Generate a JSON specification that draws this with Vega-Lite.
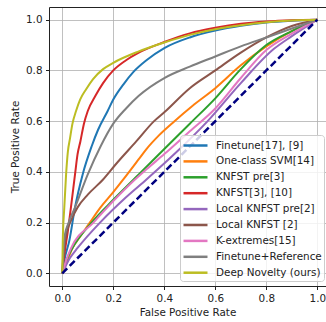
{
  "$schema": "https://vega.github.io/schema/vega-lite/v6.json",
  "width": 277,
  "height": 279,
  "autosize": "none",
  "padding": {"left": 49, "top": 7, "right": 0, "bottom": 36},
  "background": "white",
  "config": {
    "font": "DejaVu Sans",
    "view": {"stroke": null},
    "axis": {
      "labelFont": "DejaVu Sans",
      "titleFont": "DejaVu Sans",
      "labelFontSize": 10.4,
      "titleFontSize": 10.4,
      "titleFontWeight": "normal",
      "labelColor": "#222",
      "titleColor": "#222",
      "domainColor": "#222",
      "domainWidth": 1,
      "tickColor": "#222",
      "tickWidth": 1,
      "tickSize": 3.5,
      "labelPadding": 3.5,
      "gridColor": "#b0b0b0",
      "gridWidth": 0.8
    },
    "legend": {
      "labelFont": "DejaVu Sans",
      "labelFontSize": 10.4,
      "labelColor": "#222"
    }
  },
  "datasets": {
    "curves": [
      {"method": "Finetune[17], [9]", "fpr": 0, "tpr": 0},
      {"method": "Finetune[17], [9]", "fpr": 0.01, "tpr": 0.06},
      {"method": "Finetune[17], [9]", "fpr": 0.028, "tpr": 0.13},
      {"method": "Finetune[17], [9]", "fpr": 0.05, "tpr": 0.26},
      {"method": "Finetune[17], [9]", "fpr": 0.08, "tpr": 0.39},
      {"method": "Finetune[17], [9]", "fpr": 0.115, "tpr": 0.5},
      {"method": "Finetune[17], [9]", "fpr": 0.14, "tpr": 0.565},
      {"method": "Finetune[17], [9]", "fpr": 0.178, "tpr": 0.64},
      {"method": "Finetune[17], [9]", "fpr": 0.2, "tpr": 0.685},
      {"method": "Finetune[17], [9]", "fpr": 0.24, "tpr": 0.745},
      {"method": "Finetune[17], [9]", "fpr": 0.28, "tpr": 0.795},
      {"method": "Finetune[17], [9]", "fpr": 0.33, "tpr": 0.84},
      {"method": "Finetune[17], [9]", "fpr": 0.4, "tpr": 0.888},
      {"method": "Finetune[17], [9]", "fpr": 0.5, "tpr": 0.93},
      {"method": "Finetune[17], [9]", "fpr": 0.6, "tpr": 0.957},
      {"method": "Finetune[17], [9]", "fpr": 0.7, "tpr": 0.976},
      {"method": "Finetune[17], [9]", "fpr": 0.8, "tpr": 0.989},
      {"method": "Finetune[17], [9]", "fpr": 0.9, "tpr": 0.996},
      {"method": "Finetune[17], [9]", "fpr": 1, "tpr": 1},

      {"method": "One-class SVM[14]", "fpr": 0, "tpr": 0},
      {"method": "One-class SVM[14]", "fpr": 0.02, "tpr": 0.05},
      {"method": "One-class SVM[14]", "fpr": 0.04, "tpr": 0.1},
      {"method": "One-class SVM[14]", "fpr": 0.067, "tpr": 0.14},
      {"method": "One-class SVM[14]", "fpr": 0.108, "tpr": 0.2},
      {"method": "One-class SVM[14]", "fpr": 0.15, "tpr": 0.26},
      {"method": "One-class SVM[14]", "fpr": 0.2, "tpr": 0.32},
      {"method": "One-class SVM[14]", "fpr": 0.237, "tpr": 0.367},
      {"method": "One-class SVM[14]", "fpr": 0.3, "tpr": 0.45},
      {"method": "One-class SVM[14]", "fpr": 0.33, "tpr": 0.49},
      {"method": "One-class SVM[14]", "fpr": 0.38, "tpr": 0.545},
      {"method": "One-class SVM[14]", "fpr": 0.44, "tpr": 0.6},
      {"method": "One-class SVM[14]", "fpr": 0.51, "tpr": 0.66},
      {"method": "One-class SVM[14]", "fpr": 0.6, "tpr": 0.73},
      {"method": "One-class SVM[14]", "fpr": 0.7, "tpr": 0.82},
      {"method": "One-class SVM[14]", "fpr": 0.8, "tpr": 0.895},
      {"method": "One-class SVM[14]", "fpr": 0.9, "tpr": 0.955},
      {"method": "One-class SVM[14]", "fpr": 1, "tpr": 1},

      {"method": "KNFST pre[3]", "fpr": 0, "tpr": 0},
      {"method": "KNFST pre[3]", "fpr": 0.02, "tpr": 0.06},
      {"method": "KNFST pre[3]", "fpr": 0.04, "tpr": 0.1},
      {"method": "KNFST pre[3]", "fpr": 0.115, "tpr": 0.2},
      {"method": "KNFST pre[3]", "fpr": 0.2, "tpr": 0.29},
      {"method": "KNFST pre[3]", "fpr": 0.277, "tpr": 0.367},
      {"method": "KNFST pre[3]", "fpr": 0.3, "tpr": 0.39},
      {"method": "KNFST pre[3]", "fpr": 0.4, "tpr": 0.49},
      {"method": "KNFST pre[3]", "fpr": 0.5, "tpr": 0.59},
      {"method": "KNFST pre[3]", "fpr": 0.6, "tpr": 0.69},
      {"method": "KNFST pre[3]", "fpr": 0.7, "tpr": 0.805},
      {"method": "KNFST pre[3]", "fpr": 0.8, "tpr": 0.9},
      {"method": "KNFST pre[3]", "fpr": 0.9, "tpr": 0.955},
      {"method": "KNFST pre[3]", "fpr": 1, "tpr": 1},

      {"method": "KNFST[3], [10]", "fpr": 0, "tpr": 0},
      {"method": "KNFST[3], [10]", "fpr": 0.005, "tpr": 0.05},
      {"method": "KNFST[3], [10]", "fpr": 0.012, "tpr": 0.1},
      {"method": "KNFST[3], [10]", "fpr": 0.021, "tpr": 0.16},
      {"method": "KNFST[3], [10]", "fpr": 0.034, "tpr": 0.26},
      {"method": "KNFST[3], [10]", "fpr": 0.05, "tpr": 0.39},
      {"method": "KNFST[3], [10]", "fpr": 0.06, "tpr": 0.47},
      {"method": "KNFST[3], [10]", "fpr": 0.071, "tpr": 0.52},
      {"method": "KNFST[3], [10]", "fpr": 0.085, "tpr": 0.59},
      {"method": "KNFST[3], [10]", "fpr": 0.1, "tpr": 0.64},
      {"method": "KNFST[3], [10]", "fpr": 0.13, "tpr": 0.7},
      {"method": "KNFST[3], [10]", "fpr": 0.16, "tpr": 0.75},
      {"method": "KNFST[3], [10]", "fpr": 0.2, "tpr": 0.8},
      {"method": "KNFST[3], [10]", "fpr": 0.25, "tpr": 0.84},
      {"method": "KNFST[3], [10]", "fpr": 0.3, "tpr": 0.87},
      {"method": "KNFST[3], [10]", "fpr": 0.4, "tpr": 0.912},
      {"method": "KNFST[3], [10]", "fpr": 0.5, "tpr": 0.946},
      {"method": "KNFST[3], [10]", "fpr": 0.6, "tpr": 0.968},
      {"method": "KNFST[3], [10]", "fpr": 0.7, "tpr": 0.984},
      {"method": "KNFST[3], [10]", "fpr": 0.8, "tpr": 0.993},
      {"method": "KNFST[3], [10]", "fpr": 0.9, "tpr": 0.998},
      {"method": "KNFST[3], [10]", "fpr": 1, "tpr": 1},

      {"method": "Local KNFST pre[2]", "fpr": 0, "tpr": 0},
      {"method": "Local KNFST pre[2]", "fpr": 0.03, "tpr": 0.06},
      {"method": "Local KNFST pre[2]", "fpr": 0.06, "tpr": 0.1},
      {"method": "Local KNFST pre[2]", "fpr": 0.148, "tpr": 0.2},
      {"method": "Local KNFST pre[2]", "fpr": 0.25, "tpr": 0.3},
      {"method": "Local KNFST pre[2]", "fpr": 0.33, "tpr": 0.37},
      {"method": "Local KNFST pre[2]", "fpr": 0.45, "tpr": 0.48},
      {"method": "Local KNFST pre[2]", "fpr": 0.57, "tpr": 0.6},
      {"method": "Local KNFST pre[2]", "fpr": 0.7, "tpr": 0.75},
      {"method": "Local KNFST pre[2]", "fpr": 0.83, "tpr": 0.885},
      {"method": "Local KNFST pre[2]", "fpr": 0.9, "tpr": 0.935},
      {"method": "Local KNFST pre[2]", "fpr": 1, "tpr": 1},

      {"method": "Local KNFST [2]", "fpr": 0, "tpr": 0},
      {"method": "Local KNFST [2]", "fpr": 0.004, "tpr": 0.06},
      {"method": "Local KNFST [2]", "fpr": 0.01, "tpr": 0.12},
      {"method": "Local KNFST [2]", "fpr": 0.02, "tpr": 0.17},
      {"method": "Local KNFST [2]", "fpr": 0.035, "tpr": 0.21},
      {"method": "Local KNFST [2]", "fpr": 0.06, "tpr": 0.26},
      {"method": "Local KNFST [2]", "fpr": 0.1, "tpr": 0.31},
      {"method": "Local KNFST [2]", "fpr": 0.16, "tpr": 0.37},
      {"method": "Local KNFST [2]", "fpr": 0.21, "tpr": 0.43},
      {"method": "Local KNFST [2]", "fpr": 0.29, "tpr": 0.52},
      {"method": "Local KNFST [2]", "fpr": 0.36, "tpr": 0.6},
      {"method": "Local KNFST [2]", "fpr": 0.4, "tpr": 0.635},
      {"method": "Local KNFST [2]", "fpr": 0.5, "tpr": 0.73},
      {"method": "Local KNFST [2]", "fpr": 0.6, "tpr": 0.8},
      {"method": "Local KNFST [2]", "fpr": 0.7, "tpr": 0.87},
      {"method": "Local KNFST [2]", "fpr": 0.8, "tpr": 0.93},
      {"method": "Local KNFST [2]", "fpr": 0.85, "tpr": 0.955},
      {"method": "Local KNFST [2]", "fpr": 0.9, "tpr": 0.975},
      {"method": "Local KNFST [2]", "fpr": 1, "tpr": 1},

      {"method": "K-extremes[15]", "fpr": 0, "tpr": 0},
      {"method": "K-extremes[15]", "fpr": 0.015, "tpr": 0.05},
      {"method": "K-extremes[15]", "fpr": 0.035, "tpr": 0.1},
      {"method": "K-extremes[15]", "fpr": 0.122, "tpr": 0.2},
      {"method": "K-extremes[15]", "fpr": 0.2, "tpr": 0.285},
      {"method": "K-extremes[15]", "fpr": 0.282, "tpr": 0.367},
      {"method": "K-extremes[15]", "fpr": 0.33, "tpr": 0.41},
      {"method": "K-extremes[15]", "fpr": 0.4, "tpr": 0.47},
      {"method": "K-extremes[15]", "fpr": 0.5, "tpr": 0.56},
      {"method": "K-extremes[15]", "fpr": 0.6, "tpr": 0.65},
      {"method": "K-extremes[15]", "fpr": 0.7, "tpr": 0.77},
      {"method": "K-extremes[15]", "fpr": 0.8, "tpr": 0.88},
      {"method": "K-extremes[15]", "fpr": 0.9, "tpr": 0.945},
      {"method": "K-extremes[15]", "fpr": 1, "tpr": 1},

      {"method": "Finetune+Reference", "fpr": 0, "tpr": 0},
      {"method": "Finetune+Reference", "fpr": 0.004, "tpr": 0.08},
      {"method": "Finetune+Reference", "fpr": 0.01, "tpr": 0.15},
      {"method": "Finetune+Reference", "fpr": 0.025, "tpr": 0.2},
      {"method": "Finetune+Reference", "fpr": 0.05, "tpr": 0.26},
      {"method": "Finetune+Reference", "fpr": 0.1, "tpr": 0.39},
      {"method": "Finetune+Reference", "fpr": 0.15, "tpr": 0.5},
      {"method": "Finetune+Reference", "fpr": 0.2, "tpr": 0.59},
      {"method": "Finetune+Reference", "fpr": 0.25, "tpr": 0.65},
      {"method": "Finetune+Reference", "fpr": 0.3, "tpr": 0.7},
      {"method": "Finetune+Reference", "fpr": 0.4, "tpr": 0.77},
      {"method": "Finetune+Reference", "fpr": 0.5, "tpr": 0.815},
      {"method": "Finetune+Reference", "fpr": 0.6, "tpr": 0.855},
      {"method": "Finetune+Reference", "fpr": 0.7, "tpr": 0.895},
      {"method": "Finetune+Reference", "fpr": 0.8, "tpr": 0.93},
      {"method": "Finetune+Reference", "fpr": 0.9, "tpr": 0.965},
      {"method": "Finetune+Reference", "fpr": 1, "tpr": 1},

      {"method": "Deep Novelty (ours)", "fpr": 0, "tpr": 0},
      {"method": "Deep Novelty (ours)", "fpr": 0.002, "tpr": 0.13},
      {"method": "Deep Novelty (ours)", "fpr": 0.008, "tpr": 0.26},
      {"method": "Deep Novelty (ours)", "fpr": 0.015, "tpr": 0.39},
      {"method": "Deep Novelty (ours)", "fpr": 0.022, "tpr": 0.48},
      {"method": "Deep Novelty (ours)", "fpr": 0.03, "tpr": 0.53},
      {"method": "Deep Novelty (ours)", "fpr": 0.04, "tpr": 0.59},
      {"method": "Deep Novelty (ours)", "fpr": 0.054, "tpr": 0.64},
      {"method": "Deep Novelty (ours)", "fpr": 0.07, "tpr": 0.685},
      {"method": "Deep Novelty (ours)", "fpr": 0.093, "tpr": 0.725},
      {"method": "Deep Novelty (ours)", "fpr": 0.12, "tpr": 0.765},
      {"method": "Deep Novelty (ours)", "fpr": 0.16, "tpr": 0.805},
      {"method": "Deep Novelty (ours)", "fpr": 0.2, "tpr": 0.83},
      {"method": "Deep Novelty (ours)", "fpr": 0.3, "tpr": 0.875},
      {"method": "Deep Novelty (ours)", "fpr": 0.4, "tpr": 0.91},
      {"method": "Deep Novelty (ours)", "fpr": 0.5, "tpr": 0.94},
      {"method": "Deep Novelty (ours)", "fpr": 0.6, "tpr": 0.962},
      {"method": "Deep Novelty (ours)", "fpr": 0.7, "tpr": 0.978},
      {"method": "Deep Novelty (ours)", "fpr": 0.8, "tpr": 0.99},
      {"method": "Deep Novelty (ours)", "fpr": 0.9, "tpr": 0.997},
      {"method": "Deep Novelty (ours)", "fpr": 1, "tpr": 1}
    ],
    "diagonal": [
      {"fpr": 0, "tpr": 0},
      {"fpr": 1, "tpr": 1}
    ]
  },
  "layer": [
    {
      "data": {"name": "curves"},
      "mark": {"type": "line", "strokeWidth": 2, "interpolate": "monotone"},
      "encoding": {
        "x": {
          "field": "fpr", "type": "quantitative",
          "scale": {"domain": [-0.052, 1.034], "nice": false, "zero": false},
          "axis": {"values": [0, 0.2, 0.4, 0.6, 0.8, 1.0], "format": ".1f", "title": "False Positive Rate", "titlePadding": 4, "grid": true}
        },
        "y": {
          "field": "tpr", "type": "quantitative",
          "scale": {"domain": [-0.05, 1.05], "nice": false, "zero": false},
          "axis": {"values": [0, 0.2, 0.4, 0.6, 0.8, 1.0], "format": ".1f", "title": "True Positive Rate", "titlePadding": 5, "grid": true}
        },
        "color": {
          "field": "method", "type": "nominal",
          "scale": {
            "domain": ["Finetune[17], [9]", "One-class SVM[14]", "KNFST pre[3]", "KNFST[3], [10]", "Local KNFST pre[2]", "Local KNFST [2]", "K-extremes[15]", "Finetune+Reference", "Deep Novelty (ours)"],
            "range": ["#1f77b4", "#ff7f0e", "#2ca02c", "#d62728", "#9467bd", "#8c564b", "#e377c2", "#7f7f7f", "#bcbd22"]
          },
          "legend": {
            "title": null,
            "orient": "none",
            "legendX": 131,
            "legendY": 128,
            "symbolType": "M-1.714,0H1.714",
            "symbolSize": 196,
            "symbolStrokeWidth": 2.5,
            "symbolOffset": 5,
            "labelOffset": 12,
            "rowPadding": 1.9,
            "padding": 2,
            "fillColor": "rgba(255,255,255,0.8)",
            "strokeColor": "#cccccc",
            "cornerRadius": 3
          }
        }
      }
    },
    {
      "data": {"name": "diagonal"},
      "mark": {"type": "line", "color": "#000080", "strokeWidth": 2.5, "strokeDash": [7, 3.5]},
      "encoding": {
        "x": {
          "field": "fpr", "type": "quantitative",
          "axis": {"orient": "top", "labels": false, "ticks": false, "grid": false, "title": null, "domain": true}
        },
        "y": {"field": "tpr", "type": "quantitative"}
      }
    }
  ],
  "resolve": {"axis": {"x": "independent"}}
}
